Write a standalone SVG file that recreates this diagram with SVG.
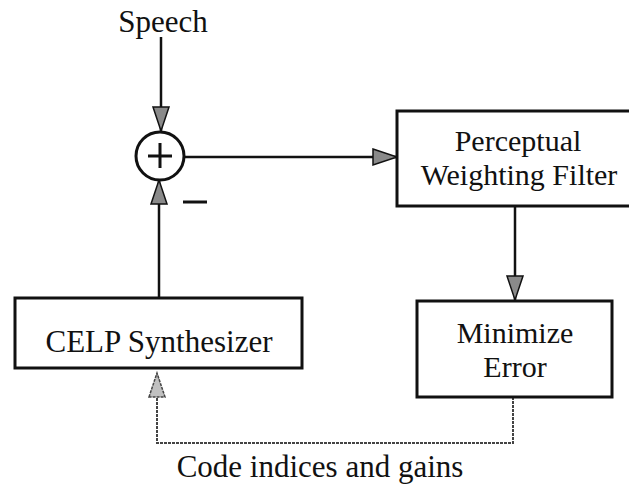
<svg xmlns="http://www.w3.org/2000/svg" width="629" height="493" viewBox="0 0 629 493">
<style>
text{font-family:"Liberation Serif","Times New Roman",serif;font-size:31px;fill:#111;text-anchor:middle}
.two{font-size:30px}
.box{fill:#fff;stroke:#111;stroke-width:3}
.wire{fill:none;stroke:#111;stroke-width:2.5}
.dot{fill:none;stroke:#444;stroke-width:2;stroke-dasharray:3 1}
</style>
<defs>
<marker id="arr" markerUnits="userSpaceOnUse" markerWidth="26" markerHeight="18" refX="24" refY="8" orient="auto" overflow="visible">
<path d="M0,0 L24,8 L0,16 Z" fill="#8a8a8a" stroke="#111" stroke-width="1.5"/>
</marker>
<marker id="arrd" markerUnits="userSpaceOnUse" markerWidth="26" markerHeight="18" refX="24" refY="8" orient="auto" overflow="visible">
<path d="M0,0 L24,8 L0,16 Z" fill="#c0c0c0" stroke="#444" stroke-width="1.5" stroke-dasharray="3 1"/>
</marker>
</defs>
<g id="connectors">
<path class="wire" d="M161,37 V131" marker-end="url(#arr)"/>
<path class="wire" d="M159,298 V180" marker-end="url(#arr)"/>
<path class="wire" d="M184,157 H397" marker-end="url(#arr)"/>
<path class="wire" d="M515,206 V300" marker-end="url(#arr)"/>
<path class="dot" d="M513,397 V443 H157 V373" marker-end="url(#arrd)"/>
<line x1="183" y1="202" x2="207" y2="202" stroke="#111" stroke-width="3"/>
</g>
<g id="speech"><text x="163" y="32">Speech</text></g>
<g id="sum">
<circle cx="160" cy="156" r="24" fill="#fff" stroke="#111" stroke-width="3"/>
<path d="M148,156 H172 M160,143 V168" stroke="#111" stroke-width="3"/>
</g>
<g id="pwf">
<rect class="box" x="397" y="111" width="240" height="95"/>
<text class="two" x="518" y="151">Perceptual</text>
<text class="two" x="519" y="185">Weighting Filter</text>
</g>
<g id="minimize">
<rect class="box" x="417" y="301" width="195" height="96"/>
<text class="two" x="515" y="343">Minimize</text>
<text class="two" x="515" y="377">Error</text>
</g>
<g id="celp">
<rect class="box" x="15" y="298" width="287" height="70"/>
<text x="159" y="352">CELP Synthesizer</text>
</g>
<g id="label"><text x="320" y="477">Code indices and gains</text></g>
</svg>
